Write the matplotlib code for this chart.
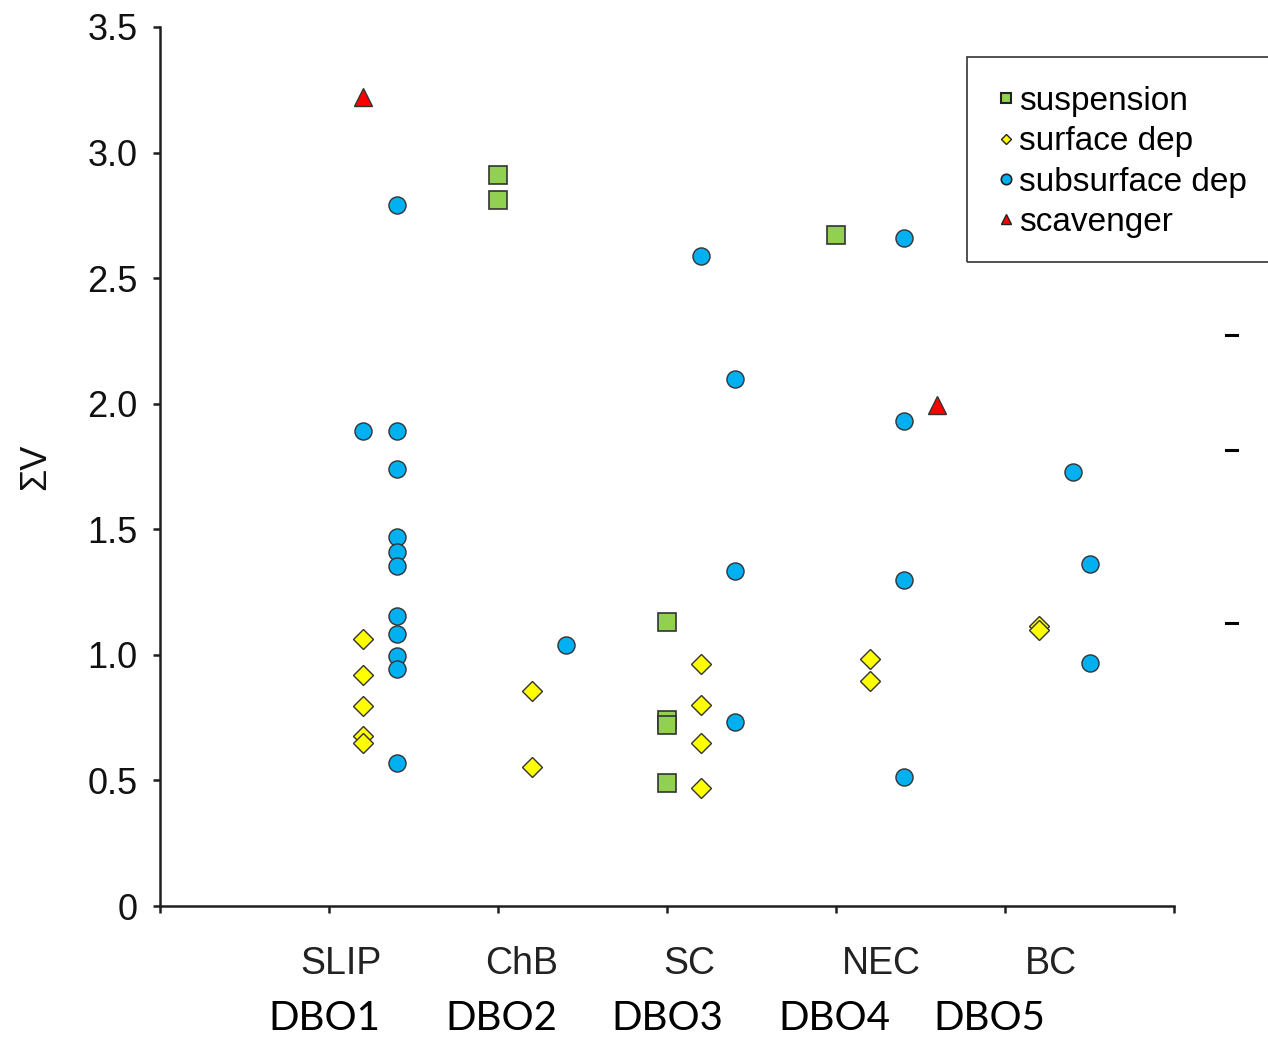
import matplotlib
matplotlib.use("Agg")
import matplotlib.pyplot as plt
from matplotlib.lines import Line2D
from matplotlib.patches import Rectangle
import matplotlib.transforms as mtransforms

# categories along x (one per station)
categories = ["SLIP", "ChB", "SC", "NEC", "BC"]
stations = ["DBO1", "DBO2", "DBO3", "DBO4", "DBO5"]

# each series: category index, column slot within category, sum V value
suspension_cat = [1, 1, 2, 2, 2, 2, 3]
suspension_slot = [0.0, 0.0, 0.0, 0.0, 0.0, 0.0, 0.0]
suspension_val = [2.91, 2.81, 1.13, 0.74, 0.72, 0.49, 2.67]

surface_cat = [0, 0, 0, 0, 0, 1, 1, 2, 2, 2, 2, 3, 3, 4, 4]
surface_slot = [0.2] * 15
surface_val = [1.065, 0.92, 0.795, 0.675, 0.65, 0.855, 0.555,
               0.965, 0.80, 0.65, 0.47, 0.983, 0.896, 1.115, 1.10]

subsurface_cat = [0, 0, 0, 0, 0, 0, 0, 0, 0, 0, 0, 0,
                  1, 2, 2, 2, 2, 3, 3, 3, 3, 4, 4, 4]
subsurface_slot = [0.2, 0.4, 0.4, 0.4, 0.4, 0.4, 0.4, 0.4, 0.4, 0.4, 0.4, 0.4,
                   0.4, 0.2, 0.4, 0.4, 0.4, 0.4, 0.4, 0.4, 0.4, 0.4, 0.5, 0.5]
subsurface_val = [1.89, 2.79, 1.89, 1.74, 1.47, 1.41, 1.355, 1.155, 1.085, 0.995, 0.945, 0.57,
                  1.04, 2.59, 2.10, 1.335, 0.733, 2.66, 1.93, 1.297, 0.514, 1.73, 1.362, 0.966]

scavenger_cat = [0, 3]
scavenger_slot = [0.2, 0.6]
scavenger_val = [3.22, 1.995]

yticks = [0, 0.5, 1.0, 1.5, 2.0, 2.5, 3.0, 3.5]
ytick_labels = ["0", "0.5", "1.0", "1.5", "2.0", "2.5", "3.0", "3.5"]

EDGE = "#333333"
AXC = "#1e1e1e"


def xpos(cats, slots):
    return [c + 1 + s for c, s in zip(cats, slots)]


fig = plt.figure(figsize=(12.68, 10.4), dpi=100)
ax = fig.add_axes([160 / 1268, 1 - 906 / 1040, 1014 / 1268, 879 / 1040])

ax.plot(xpos(suspension_cat, suspension_slot), suspension_val, ls="none", marker="s",
        ms=13.5, mfc="#92d050", mec=EDGE, mew=1.2)
ax.plot(xpos(surface_cat, surface_slot), surface_val, ls="none", marker="D",
        ms=10.5, mfc="#ffff00", mec=EDGE, mew=1.0)
ax.plot(xpos(subsurface_cat, subsurface_slot), subsurface_val, ls="none", marker="o",
        ms=12.3, mfc="#00b0f0", mec=EDGE, mew=1.0)
ax.plot(xpos(scavenger_cat, scavenger_slot), scavenger_val, ls="none", marker="^",
        ms=13, mfc="#ff0000", mec=EDGE, mew=1.0)

ax.set_xlim(0, 6)
ax.set_ylim(0, 3.5)
for s in ["top", "right"]:
    ax.spines[s].set_visible(False)
for s in ["left", "bottom"]:
    ax.spines[s].set_color(AXC)
    ax.spines[s].set_linewidth(1.8)

ax.set_yticks(yticks)
ax.set_yticklabels(ytick_labels, family="Liberation Sans", fontsize=26, color="#111111")
ax.set_xticks(range(0, 7))
ax.set_xticklabels([])
ax.tick_params(axis="y", direction="out", length=5, width=1.8, color=AXC, pad=11)
ax.tick_params(axis="x", direction="out", length=5, width=1.8, color=AXC)

# category names and station labels below the axis
cat_x = [1.07, 2.14, 3.13, 4.27, 5.27]
st_x = [0.97, 2.02, 3.0, 3.99, 4.91]
trans = mtransforms.blended_transform_factory(ax.transData, fig.transFigure)
for name, x in zip(categories, cat_x):
    ax.text(x, 1 - 964 / 1040, name, transform=trans, ha="center", va="center",
            family="Liberation Sans", fontsize=27, color="#222222")
for name, x in zip(stations, st_x):
    ax.text(x, 1 - 1018 / 1040, name, transform=trans, ha="center", va="center",
            family="Lato", fontsize=29, color="black")

fig.text(36 / 1268, 1 - 467 / 1040, "\u03a3V", rotation=90, ha="center", va="center",
         family="Liberation Sans", fontsize=26, color="#111111")

# legend with a frame that runs off the right edge
fig.patches.append(Rectangle((967 / 1268, 1 - 262 / 1040), 320 / 1268, 205 / 1040,
                             transform=fig.transFigure, fill=False, ec="#333333", lw=1.2))
handles = [
    Line2D([], [], ls="none", marker="s", ms=7.5, mfc="#92d050", mec="#222222", mew=1.5),
    Line2D([], [], ls="none", marker="D", ms=5.5, mfc="#ffff00", mec="#222222", mew=1.0),
    Line2D([], [], ls="none", marker="o", ms=7.5, mfc="#00b0f0", mec="#222222", mew=1.2),
    Line2D([], [], ls="none", marker="^", ms=7.5, mfc="#ff0000", mec="#222222", mew=1.0),
]
labels = ["suspension", "surface dep", "subsurface dep", "scavenger"]
fig.legend(handles, labels, loc="upper left", bbox_to_anchor=(998 / 1268, 1 - 86 / 1040),
           frameon=False, prop={"family": "Liberation Sans", "size": 24},
           handlelength=0.5, handletextpad=0.12, labelspacing=0.28, borderpad=0,
           borderaxespad=0)

# small stray dashes at the right edge
for yy in [335, 450, 623]:
    fig.add_artist(Line2D([1226 / 1268, 1237 / 1268], [1 - yy / 1040, 1 - yy / 1040],
                          transform=fig.transFigure, color="black", lw=2.2))

fig.savefig("out.png", dpi=100)
